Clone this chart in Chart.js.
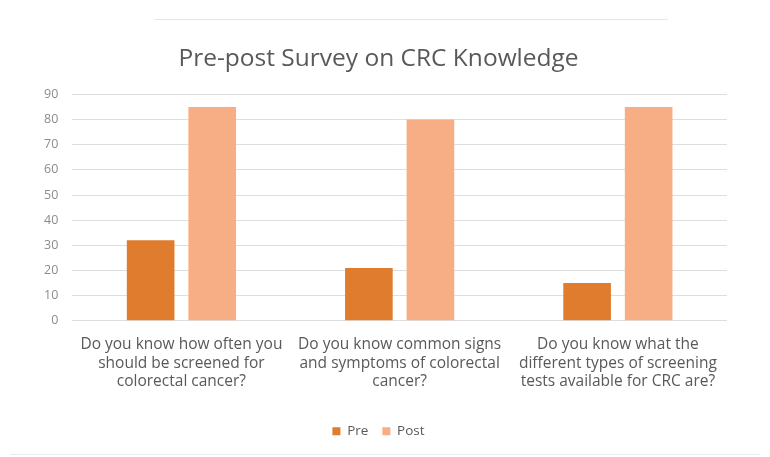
<!DOCTYPE html>
<html>
<head>
<meta charset="utf-8">
<script src="https://cdn.jsdelivr.net/npm/chart.js@4/dist/chart.umd.min.js"></script>
<style>
  html, body { margin: 0; padding: 0; background: #fff; }
  #wrap { position: relative; width: 770px; height: 457px; }
  #topRule { position: absolute; left: 155px; top: 19px; width: 513px; height: 1px; background: #e6e6e6; }
  #bottomRule { position: absolute; left: 10px; top: 454px; width: 750px; height: 1px; background: #ececec; }
</style>
</head>
<body>
<div id="wrap">
  <canvas id="crcChart" width="770" height="457"></canvas>
  <div id="topRule"></div>
  <div id="bottomRule"></div>
</div>
<script>
let questions = [
    ['Do you know how often you', 'should be screened for', 'colorectal cancer?'],
    ['Do you know common signs', 'and symptoms of colorectal', 'cancer?'],
    ['Do you know what the', 'different types of screening', 'tests available for CRC are?']
];
let preScores = [32, 21, 15];
let postScores = [85, 80, 85];
let yTicks = [0, 10, 20, 30, 40, 50, 60, 70, 80, 90];

const textGray = '#595959';
const fontFamily = '"Open Sans", "Liberation Sans", sans-serif';

let ctx = document.getElementById('crcChart').getContext('2d');
let crcChart = new Chart(ctx, {
    type: 'bar',
    data: {
        labels: questions,
        datasets: [
            {
                label: 'Pre',
                data: preScores,
                backgroundColor: '#DF7C2D',
                categoryPercentage: 0.564,
                barPercentage: 0.774
            },
            {
                label: 'Post',
                data: postScores,
                backgroundColor: '#F7AE84',
                categoryPercentage: 0.564,
                barPercentage: 0.774
            }
        ]
    },
    options: {
        responsive: false,
        animation: false,
        layout: { padding: { left: 30, right: 43, top: 44, bottom: 9 } },
        plugins: {
            title: {
                display: true,
                text: 'Pre-post Survey on CRC Knowledge',
                color: textGray,
                font: { family: fontFamily, size: 24.5, weight: 'normal' },
                padding: { top: 0, bottom: 21 }
            },
            legend: {
                position: 'bottom',
                labels: {
                    color: textGray,
                    font: { family: fontFamily, size: 13.5 },
                    boxWidth: 8,
                    boxHeight: 8,
                    padding: 14
                }
            },
            tooltip: { enabled: false }
        },
        scales: {
            x: {
                // leave some room between the question labels and the legend
                afterFit: function(axis) {
                    axis.height += 13;
                },
                grid: { display: false },
                border: { display: false },
                ticks: {
                    color: textGray,
                    font: { family: fontFamily, size: 15.5, lineHeight: 1.22 },
                    maxRotation: 0,
                    autoSkip: false,
                    padding: 6
                }
            },
            y: {
                min: 0,
                max: 90,
                afterBuildTicks: function(axis) {
                    axis.ticks = yTicks.map(v => ({ value: v }));
                },
                grid: { color: '#dedede', drawTicks: false },
                border: { display: false },
                ticks: {
                    color: '#8c8c8c',
                    font: { family: fontFamily, size: 12.5 },
                    padding: 14
                }
            }
        }
    }
});
</script>
</body>
</html>
